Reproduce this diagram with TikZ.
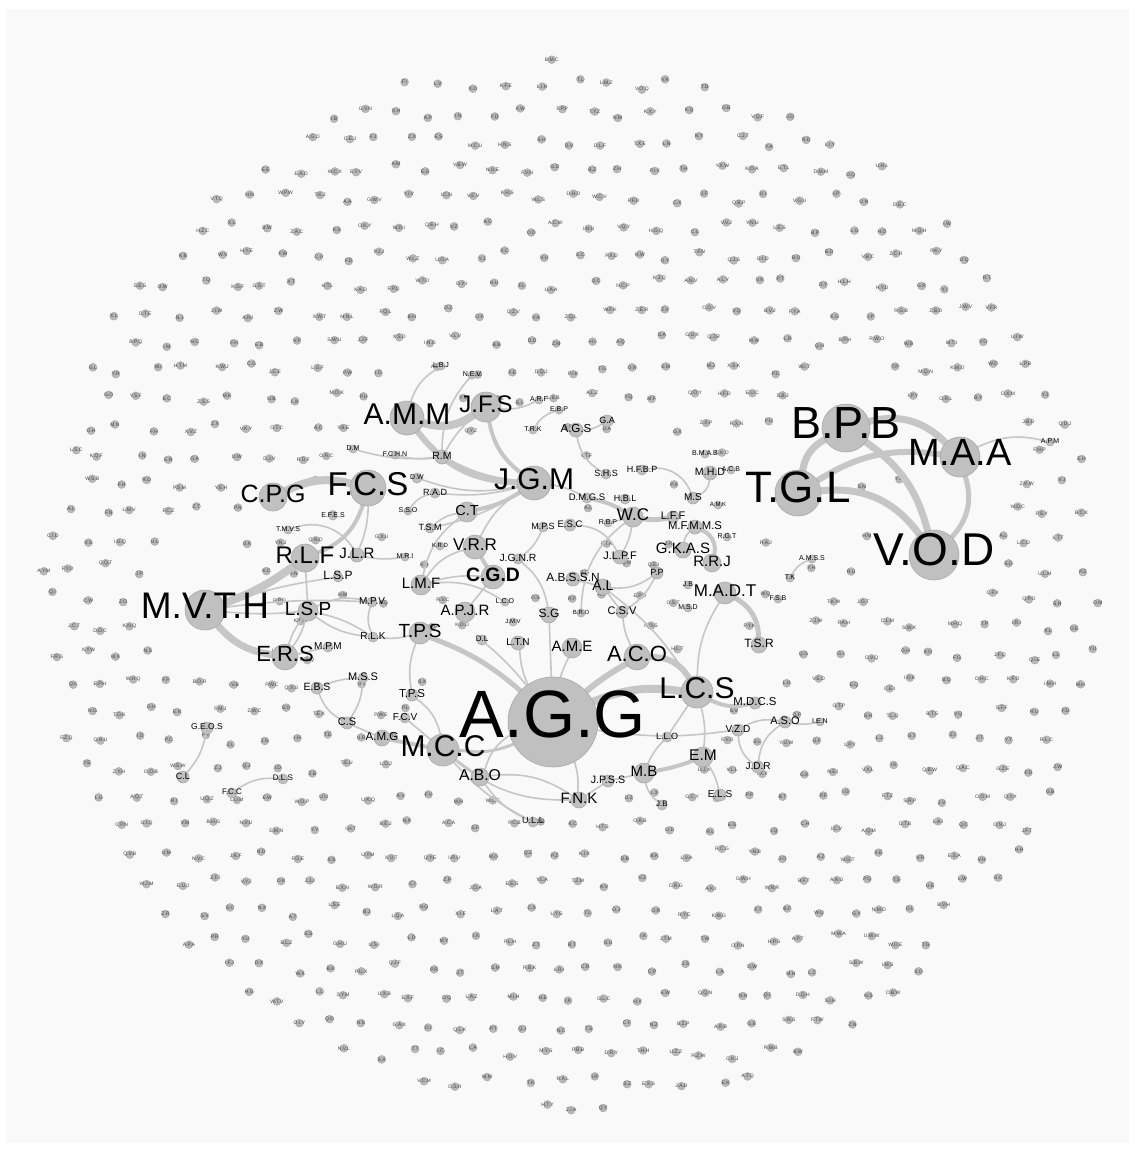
\documentclass[tikz,border=0pt]{standalone}
\usepackage{fontspec}
\setmainfont{Liberation Sans}
\definecolor{panel}{HTML}{F9F9F9}
\definecolor{edgec}{HTML}{C6C6C6}
\definecolor{nodefill}{HTML}{C0C0C0}
\definecolor{nodeline}{HTML}{A8A8A8}
\definecolor{dotfill}{HTML}{B8B8B8}
\definecolor{dotline}{HTML}{A0A0A0}
\definecolor{dottext}{HTML}{444444}
\pgfdeclarelayer{bg}
\pgfdeclarelayer{edges}
\pgfsetlayers{bg,edges,main}
\tikzset{
  hub/.style={circle, fill=nodefill, draw=nodeline, line width=0.6pt, inner sep=0pt},
  lab/.style={text=black, inner sep=0pt},
  dot/.style={circle, fill=dotfill, draw=dotline, line width=0.3pt, minimum size=8pt, inner sep=0pt},
  dotlab/.style={font=\fontsize{5}{5.5}\selectfont, text=dottext, inner sep=0pt},
  e/.style={draw=edgec, line cap=round, line width=1.6pt},
}
\newcommand\mkhub[6]{%
  \node[hub, minimum size=2*#4pt] (#1) at (#2,#3) {};
  \node[lab, font=\fontsize{#6}{#6}\selectfont, yshift=0.12*#6pt] (#1-l) at (#1.center) {#5};
}
\begin{document}
\begin{tikzpicture}[x=1pt,y=-1pt]
\begin{pgfonlayer}{bg}
\fill[white] (0,0) rectangle (1135,1149);
\fill[panel] (6,9) rectangle (1129,1143);
\end{pgfonlayer}
\useasboundingbox (0,0) rectangle (1135,1149);

% ---------- main nodes ----------
\mkhub{agg}{553}{722}{45}{A.G.G}{67}
\mkhub{tgl}{798}{493}{23}{T.G.L}{44}
\mkhub{bpb}{846}{428}{24}{B.P.B}{45}
\mkhub{maa}{960}{457}{20}{M.A.A}{38}
\mkhub{vod}{934}{555}{25}{V.O.D}{46}
\mkhub{mvth}{205}{610}{20}{M.V.T.H}{37}
\mkhub{amm}{407}{418}{17}{A.M.M}{30}
\mkhub{jfs}{486}{407}{15}{J.F.S}{24}
\mkhub{jgm}{534}{483}{17}{J.G.M}{30}
\mkhub{fcs}{368}{488}{18}{F.C.S}{33}
\mkhub{cpg}{273}{497}{14}{C.P.G}{25}
\mkhub{rlf}{305}{558}{14}{R.L.F}{24}
\mkhub{jlr}{357}{555}{7}{J.L.R}{15}
\mkhub{lspa}{338}{577}{5}{L.S.P}{12}
\mkhub{lspb}{308}{611}{10}{L.S.P}{19}
\mkhub{ers}{285}{657}{13}{E.R.S}{22}
\mkhub{mpm}{328}{647}{5}{M.P.M}{10}
\mkhub{tmvs}{288}{530}{4}{T.M.V.S}{7}
\mkhub{efes}{333}{516}{4}{E.F.E.S}{7}
\mkhub{mpv}{372}{602}{5}{M.P.V}{10}
\mkhub{rlk}{373}{637}{5}{R.L.K}{10}
\mkhub{tpsa}{420}{633}{11}{T.P.S}{19}
\mkhub{tpsb}{412}{695}{6}{T.P.S}{11.5}
\mkhub{mss}{363}{678}{5}{M.S.S}{11}
\mkhub{ebs}{317}{688}{6}{E.B.S}{10.5}
\mkhub{cs}{347}{723}{6}{C.S}{11}
\mkhub{amg}{382}{738}{8}{A.M.G}{11.6}
\mkhub{fcv}{405}{718}{5}{F.C.V}{10}
\mkhub{mcc}{443}{750}{16}{M.C.C}{30}
\mkhub{abo}{480}{777}{9}{A.B.O}{15.7}
\mkhub{geos}{207}{728}{6}{G.E.O.S}{8.5}
\mkhub{cl}{183}{777}{6}{C.L}{9}
\mkhub{fcc}{232}{793}{5}{F.C.C}{8}
\mkhub{dls}{283}{779}{5}{D.L.S}{8}
\mkhub{ull}{533}{822}{5}{U.L.L}{9}
\mkhub{fnk}{579}{800}{8}{F.N.K}{15}
\mkhub{jpss}{608}{781}{6}{J.P.S.S}{10.7}
\mkhub{mb}{644}{773}{10}{M.B}{15}
\mkhub{llo}{667}{737}{5}{L.L.O}{9}
\mkhub{em}{703}{757}{10}{E.M}{15.5}
\mkhub{els}{720}{795}{6}{E.L.S}{10}
\mkhub{jb}{662}{805}{5}{J.B}{8}
\mkhub{jdr}{758}{767}{6}{J.D.R}{10}
\mkhub{vzd}{738}{730}{6}{V.Z.D}{10}
\mkhub{aso}{785}{722}{6}{A.S.O}{11}
\mkhub{ien}{820}{722}{4}{I.E.N}{7}
\mkhub{mdcs}{755}{703}{6}{M.D.C.S}{11.4}
\mkhub{lcs}{697}{692}{16}{L.C.S}{30}
\mkhub{aco}{637}{657}{13}{A.C.O}{22}
\mkhub{madt}{725}{593}{11}{M.A.D.T}{17}
\mkhub{tsr}{759}{645}{8}{T.S.R}{12}
\mkhub{msd}{688}{608}{4}{M.S.D}{7}
\mkhub{fsb}{778}{599}{4}{F.S.B}{7}
\mkhub{tk}{790}{578}{4}{T.K}{7}
\mkhub{amss}{812}{559}{4}{A.M.S.S}{7}
\mkhub{jbb}{688}{585}{4}{J.B}{7}
\mkhub{pp}{657}{573}{6}{P.P}{9}
\mkhub{csv}{622}{612}{6}{C.S.V}{11}
\mkhub{al}{603}{587}{8}{A.L}{14}
\mkhub{abssn}{573}{579}{7}{A.B.S.S.N}{11.8}
\mkhub{jlpf}{620}{557}{7}{J.L.P.F}{11}
\mkhub{wc}{633}{517}{10}{W.C}{17}
\mkhub{hbl}{625}{499}{5}{H.B.L}{9}
\mkhub{hfbp}{642}{470}{5}{H.F.B.P}{9}
\mkhub{shs}{606}{474}{5}{S.H.S}{9}
\mkhub{dmgs}{587}{498}{5}{D.M.G.S}{9.5}
\mkhub{mps}{543}{527}{5}{M.P.S}{9}
\mkhub{esc}{570}{525}{6}{E.S.C}{9.5}
\mkhub{rbp}{608}{523}{4}{R.B.P}{7}
\mkhub{jgnr}{518}{559}{5}{J.G.N.R}{10.4}
\mkhub{cgd}{493}{577}{12}{\bfseries C.G.D}{19.4}
\mkhub{vrr}{475}{547}{12}{V.R.R}{17}
\mkhub{krd}{440}{546}{4}{K.R.D}{6}
\mkhub{mri}{405}{557}{4}{M.R.I}{7}
\mkhub{lmf}{421}{585}{10}{L.M.F}{15}
\mkhub{apjr}{465}{612}{10}{A.P.J.R}{15}
\mkhub{lco}{505}{602}{4}{L.C.O}{7}
\mkhub{jmv}{513}{622}{4}{J.M.V}{6}
\mkhub{sg}{549}{615}{8}{S.G}{12}
\mkhub{bro}{581}{613}{4}{B.R.O}{6}
\mkhub{dl}{482}{640}{5}{D.L}{8}
\mkhub{ltn}{518}{643}{7}{L.T.N}{10}
\mkhub{ame}{572}{648}{10}{A.M.E}{15}
\mkhub{ct}{467}{512}{10}{C.T}{14.5}
\mkhub{tsm}{430}{528}{5}{T.S.M}{9}
\mkhub{sso}{408}{511}{4}{S.S.O}{7}
\mkhub{rad}{435}{493}{5}{R.A.D}{9}
\mkhub{dw}{417}{478}{5}{D.W}{7}
\mkhub{fchn}{395}{455}{4}{F.C.H.N}{7}
\mkhub{rm}{442}{457}{7}{R.M}{10.5}
\mkhub{dm}{353}{449}{4}{D.M}{7}
\mkhub{lbj}{441}{366}{4}{L.B.J}{7}
\mkhub{nev}{472}{375}{4}{N.E.V}{7}
\mkhub{arf}{539}{400}{4}{A.R.F}{7}
\mkhub{ebp}{559}{410}{4}{E.B.P}{7}
\mkhub{trk}{533}{430}{4}{T.R.K}{7}
\mkhub{ags}{576}{430}{7}{A.G.S}{11.6}
\mkhub{ga}{607}{421}{6}{G.A}{9}
\mkhub{mhd}{710}{473}{7}{M.H.D}{10.6}
\mkhub{bmab}{705}{454}{4}{B.M.A.B}{7}
\mkhub{acb}{731}{470}{4}{A.C.B}{7}
\mkhub{ms}{693}{498}{6}{M.S}{10}
\mkhub{amk}{718}{505}{4}{A.M.K}{6}
\mkhub{lff}{673}{517}{6}{L.F.F}{11}
\mkhub{mfmms}{695}{527}{7}{M.F.M.M.S}{11.3}
\mkhub{rgt}{727}{537}{4}{R.G.T}{7}
\mkhub{gkas}{683}{550}{8}{G.K.A.S}{15}
\mkhub{rrj}{712}{563}{9}{R.R.J}{15}
\mkhub{apm}{1050}{442}{4}{A.P.M}{7}

% ---------- edges ----------
\begin{pgfonlayer}{edges}
% heavy
\draw[e, line width=8pt] (amm) to[bend right=25] (jfs);
\draw[e, line width=6pt] (amm) to[bend right=25] (jgm);
\draw[e, line width=4pt] (jfs) to[bend right=20] (jgm);
\draw[e, line width=8pt] (fcs) to[bend right=20] (cpg);
\draw[e, line width=4pt] (fcs) to[bend left=25] (rlf);
\draw[e, line width=8pt] (rlf) to[bend left=8] (mvth);
\draw[e, line width=7pt] (mvth) to[bend right=20] (ers);
\draw[e, line width=7pt] (tgl) to[bend left=25] (bpb);
\draw[e, line width=6pt] (tgl) to[bend left=20] (maa);
\draw[e, line width=7pt] (tgl) to[bend left=30] (vod);
\draw[e, line width=7pt] (bpb) to[bend left=30] (maa);
\draw[e, line width=7pt] (bpb) to[bend left=20] (vod);
\draw[e, line width=5pt] (maa) to[bend left=30] (vod);
\draw[e, line width=8pt] (agg) to[bend left=15] (lcs);
\draw[e, line width=6pt] (agg) to[bend left=5] (aco);
\draw[e, line width=6pt] (aco) to[bend left=30] (lcs);
\draw[e, line width=5pt] (tpsa) to[bend left=10] (agg);
\draw[e, line width=3pt] (mcc) to[bend right=15] (agg);
\draw[e, line width=4pt] (lcs) to[bend right=20] (mdcs);
\draw[e, line width=5pt] (madt) to[bend left=30] (tsr);
\draw[e, line width=5pt] (wc) to[bend right=10] (lff);
\draw[e, line width=4pt] (mfmms) to[bend left=40] (rrj);
\draw[e, line width=4pt] (jgm) to[bend left=10] (ct);
\draw[e, line width=4pt] (dmgs) to[bend left=10] (wc);
\draw[e, line width=4pt] (vrr) -- (cgd);
\draw[e, line width=4pt] (mb) to[bend right=5] (em);
\draw[e, line width=4pt] (mcc) -- (amg);
\draw[e, line width=3pt] (rm) to[bend right=10] (jgm);
% light
\draw[e] (lbj) to[bend right=20] (amm);
\draw[e] (nev) to[bend right=20] (rm);
\draw[e] (jfs) to[bend right=10] (rm);
\draw[e] (arf) to[bend left=15] (jfs);
\draw[e] (ebp) to[bend right=20] (trk);
\draw[e] (ags) to[bend right=15] (ga);
\draw[e] (ags) to[bend right=25] (shs);
\draw[e] (dm) to[bend right=10] (rm);
\draw[e] (fchn) to[bend right=10] (rm);
\draw[e] (dw) to[bend right=15] (jgm);
\draw[e] (rad) to[bend right=10] (jgm);
\draw[e] (sso) to[bend left=20] (rad);
\draw[e] (tsm) to[bend left=15] (ct);
\draw[e] (tsm) to[bend right=10] (jgm);
\draw[e] (ct) to[bend right=20] (lmf);
\draw[e] (jgm) to[bend right=15] (vrr);
\draw[e] (vrr) to[bend right=20] (lmf);
\draw[e] (lmf) to[bend left=10] (cgd);
\draw[e] (lmf) to[bend left=20] (lco);
\draw[e] (apjr) -- (cgd);
\draw[e] (jgnr) to[bend left=20] (sg);
\draw[e] (mps) to[bend left=15] (jgnr);
\draw[e] (esc) to[bend left=30] (jlpf);
\draw[e] (wc) to[bend left=10] (jlpf);
\draw[e] (wc) -- (rbp);
\draw[e] (wc) to[bend right=25] (bro);
\draw[e] (jgm) to[bend left=10] (dmgs);
\draw[e] (hfbp) to[bend left=40] (ms);
\draw[e] (mhd) to[bend left=30] (ms);
\draw[e] (al) to[bend right=20] (pp);
\draw[e] (al) -- (csv);
\draw[e] (al) -- (abssn);
\draw[e] (pp) to[bend left=15] (csv);
\draw[e] (al) to[bend left=10] (lcs);
\draw[e] (csv) to[bend right=10] (aco);
\draw[e] (madt) to[bend right=15] (lcs);
\draw[e] (gkas) to[bend left=20] (mfmms);
\draw[e] (lcs) to[bend left=10] (em);
\draw[e] (lcs) -- (llo);
\draw[e] (llo) to[bend right=10] (mb);
\draw[e] (mb) -- (jpss);
\draw[e] (jpss) -- (fnk);
\draw[e] (em) to[bend left=10] (els);
\draw[e] (mb) to[bend right=20] (jb);
\draw[e] (agg) to[bend left=10] (fnk);
\draw[e] (agg) to[bend right=20] (abo);
\draw[e] (agg) to[bend right=8] (vzd);
\draw[e] (vzd) to[bend left=20] (aso);
\draw[e] (vzd) to[bend right=25] (jdr);
\draw[e] (aso) to[bend right=25] (jdr);
\draw[e] (aso) to[bend right=10] (ien);
\draw[e] (mcc) -- (abo);
\draw[e] (mcc) to[bend right=10] (ull);
\draw[e] (mcc) to[bend right=20] (fnk);
\draw[e] (abo) to[bend left=20] (fnk);
\draw[e] (abo) to[bend right=15] (ull);
\draw[e] (mcc) -- (fcv);
\draw[e] (mcc) to[bend right=20] (tpsb);
\draw[e] (cs) -- (amg);
\draw[e] (cs) to[bend left=20] (ebs);
\draw[e] (cs) to[bend right=15] (mss);
\draw[e] (ebs) to[bend left=10] (mss);
\draw[e] (tpsa) to[bend right=15] (tpsb);
\draw[e] (tpsa) to[bend left=10] (rlk);
\draw[e] (rlk) to[bend left=20] (mpv);
\draw[e] (rlk) to[bend right=10] (lspb);
\draw[e] (mvth) to[bend left=5] (lspa);
\draw[e] (mvth) to[bend right=5] (lspb);
\draw[e] (mvth) to[bend left=5] (mpv);
\draw[e] (lspb) to[bend left=10] (ers);
\draw[e] (lspb) to[bend right=10] (ers);
\draw[e] (rlf) -- (lspb);
\draw[e] (lspb) to[bend left=20] (mpv);
\draw[e] (lspb) to[bend right=15] (rlk);
\draw[e] (ers) -- (mpm);
\draw[e] (fcs) to[bend left=10] (jlr);
\draw[e] (jlr) to[bend right=10] (mri);
\draw[e] (tmvs) to[bend left=40] (jlr);
\draw[e] (geos) to[bend left=15] (cl);
\draw[e] (fcc) to[bend left=20] (dls);
\draw[e] (tk) to[bend left=20] (amss);
\draw[e] (maa) to[bend left=20] (apm);
\draw[e] (agg) to[bend left=5] (ame);
\draw[e] (agg) to[bend left=10] (ltn);
\draw[e] (agg) to[bend right=5] (dl);
\draw[e] (agg) -- (sg);
\end{pgfonlayer}

% ---------- background cloud of small nodes ----------
\begin{pgfonlayer}{bg}
\pgfmathsetseed{4242}
\foreach \r in {0,...,37}{
 \foreach \c in {0,...,34}{
  \pgfmathsetmacro\px{38+\c*32.5+mod(\r,2)*16+7*rand}
  \pgfmathsetmacro\py{56+\r*28.5+6*rand}
  \pgfmathsetmacro\rr{((\px-570)/530)^2+((\py-583)/528)^2}
  \pgfmathsetmacro\ex{min(veclen(\px-553,\py-715)-100, veclen(\px-798,\py-488)-60, veclen(\px-846,\py-425)-60, veclen(\px-960,\py-455)-55, veclen(\px-934,\py-550)-65, veclen(\px-205,\py-605)-70, veclen(\px-407,\py-415)-45, veclen(\px-534,\py-480)-45, veclen(\px-368,\py-485)-45, veclen(\px-273,\py-495)-35, veclen(\px-443,\py-748)-45, veclen(\px-697,\py-688)-40)}
  \pgfmathsetmacro\cen{((\px-560)/250)^2+((\py-610)/190)^2}
  \pgfmathsetmacro\pr{rnd}
  \pgfmathtruncatemacro\ok{(\rr<1) && (\ex>0) && ((\cen>1) || (\pr<0.4)) ? 1 : 0}
  \ifnum\ok=1
    \pgfmathtruncatemacro\la{random(65,90)}
    \pgfmathtruncatemacro\lb{random(65,90)}
    \pgfmathtruncatemacro\lc{random(65,90)}
    \pgfmathtruncatemacro\nl{random(2,3)}
    \node[dot] (d-\r-\c) at (\px,\py) {};
    \node[dotlab] (t-\r-\c) at (\px,\py) {\char\la\relax.\char\lb\relax\ifnum\nl=3 .\char\lc\relax\fi};
  \fi
 }
}
\end{pgfonlayer}
\end{tikzpicture}
\end{document}
